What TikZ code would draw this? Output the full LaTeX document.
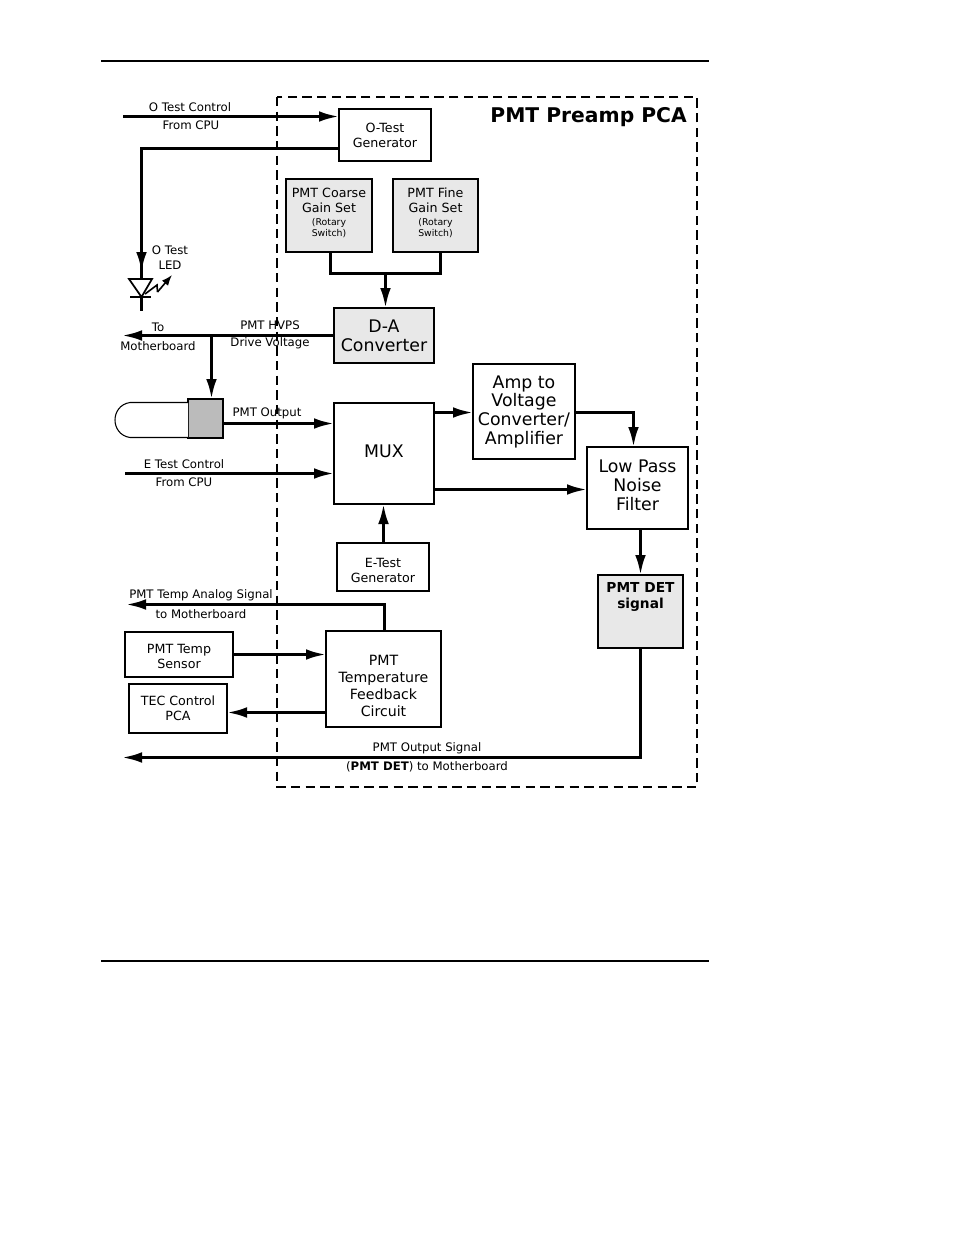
\documentclass[tikz,border=0pt]{standalone}
\usepackage{fontspec}
\setmainfont{DejaVu Sans}
\usetikzlibrary{arrows.meta,calc}
\definecolor{ink}{HTML}{000000}
\definecolor{panel}{HTML}{E8E8E8}
\definecolor{tubegray}{HTML}{BBBBBB}
\tikzset{>={Latex[length=15pt,width=8pt]},
  sig/.style={->,draw=ink,line width=2.25pt},
  wire/.style={draw=ink,line width=2.25pt},
  blk/.style n args={2}{draw=ink,line width=1.5pt,fill=white,inner sep=0pt,outer sep=0pt,align=center,
    minimum width=#1*.75pt,minimum height=#2*.75pt,font=\fontsize{9.5}{11.3}\selectfont},
  bigblk/.style={font=\fontsize{13}{14}\selectfont},
  midblk/.style={font=\fontsize{10.6}{12.8}\selectfont},
  shaded/.style={fill=panel},
  lbl/.style={font=\fontsize{8.8}{10}\selectfont,inner sep=0pt}}
\newcommand{\rot}[1]{{\fontsize{7}{8.5}\selectfont #1}}
\newcommand{\topgap}[1]{\rule{0pt}{#1}}
\begin{document}
\begin{tikzpicture}[x=.75pt,y=-.75pt]
\useasboundingbox (0,0) rectangle (954,1235);
\draw[ink,line width=.8pt] (101,61)--(709,61) (101,961)--(709,961);
\draw[ink,line width=1.5pt,dash pattern=on 7pt off 4pt] (277,97) rectangle (697,787);
\node[anchor=east,inner sep=0pt,font=\fontsize{15.2}{18}\bfseries\selectfont] (title) at (687,117) {PMT Preamp PCA};

\node[blk={92}{52}] (ogen) at (385,135) {O-Test\\Generator};
\node[blk={86}{73},shaded,text depth=5pt] (coarse) at (329,215.5) {PMT Coarse\\Gain Set\\[-2pt]\rot{(Rotary}\\[-3pt]\rot{Switch)}};
\node[blk={85}{73},shaded,text depth=5pt] (fine) at (435.5,215.5) {PMT Fine\\Gain Set\\[-2pt]\rot{(Rotary}\\[-3pt]\rot{Switch)}};
\node[blk={100}{55},shaded,bigblk] (da) at (384,335.5) {D-A\\Converter};
\node[blk={100}{101},bigblk,text depth=3pt] (mux) at (384,453.5) {MUX};
\node[blk={102}{95},bigblk] (amp) at (524,411.5) {Amp to\\Voltage\\Converter/\\Amplifier};
\node[blk={101}{82},bigblk,text depth=4pt] (lpf) at (637.5,488) {Low Pass\\Noise\\Filter};
\node[blk={92}{48}] (egen) at (383,567) {\topgap{11.5pt}E-Test\\Generator};
\node[blk={115}{96},midblk] (fb) at (383.5,679) {\topgap{18.5pt}PMT\\Temperature\\Feedback\\Circuit};
\node[blk={108}{45}] (sensor) at (179,654.5) {\topgap{10pt}PMT Temp\\Sensor};
\node[blk={98}{49}] (tec) at (178,708.5) {TEC Control\\PCA};
\node[blk={85}{73},shaded] (det) at (640.5,611.5) {};
\node[align=center,inner sep=0pt,font=\fontsize{10.3}{12.6}\bfseries\selectfont] (dettext) at (640.5,597) {PMT DET\\signal};
\node[blk={35}{39},fill=tubegray,line width=.8pt] (pmt) at (205.5,418.5) {};
\draw[ink,line width=.8pt,fill=white] (pmt.west |- 0,402.5) -- (130,402.5) .. controls (120,404) and (115,412) .. (115,420) .. controls (115,428) and (120,436) .. (130,437.5) -- (pmt.west |- 0,437.5);

\coordinate (ocpu) at (123,116.5);\coordinate (ecpu) at (125,473.5);
\coordinate (oturn) at (141.5,148.5);\coordinate (ledtop) at (141.5,279);\coordinate (ledtip) at (141.5,297);\coordinate (ledend) at (141.5,311);
\coordinate (coarsedrop) at (330.5,273.5);\coordinate (gainjoin) at (385.5,273.5);\coordinate (finedrop) at (440.5,273.5);
\coordinate (hvout) at (122,335.5);\coordinate (hvtap) at (211.5,335.5);
\coordinate (tempturn) at (384.5,604.5);\coordinate (tempout) at (126,604.5);\coordinate (detturn) at (640.5,757.5);\coordinate (detout) at (122,757.5);

\draw[sig] (ocpu) -- (ocpu -| ogen.west);
\draw[wire] (ogen.west |- oturn) -- (oturn) -- (ledtop);
\draw[sig] (oturn) -- (141.5,272);
\draw[ink,line width=1.3pt,fill=white] (129,279) -- (152,279) -- (ledtip) -- cycle;
\draw[ink,line width=1.2pt] (130,297) -- (151,297);
\draw[wire] (ledtip) -- (ledend);
\draw[ink,line width=1.2pt] (145,294) -- (157,285) -- (157.5,292);
\draw[->,>={Latex[length=8pt,width=6pt]},ink,line width=1.2pt] (157.5,292) -- (172,275);

\draw[wire] (coarsedrop |- coarse.south) -- (coarsedrop) -- (finedrop) -- (finedrop |- fine.south);
\draw[sig] (gainjoin) -- (da.north -| gainjoin);
\draw[sig] (da.west) -- (hvout);
\draw[sig] (hvtap) -- (pmt.north -| hvtap);
\draw[sig] (pmt.east |- 0,423.5) -- (mux.west |- 0,423.5);
\draw[sig] (ecpu) -- (ecpu -| mux.west);
\draw[sig] (mux.east |- 0,412.5) -- (amp.west |- 0,412.5);
\draw[sig] (amp.east |- 0,412.5) -- (633.5,412.5) -- (lpf.north -| 633.5,0);
\draw[sig] (mux.east |- 0,489.5) -- (lpf.west |- 0,489.5);
\draw[sig] (lpf.south -| det.north) -- (det.north);
\draw[sig] (383.5,0 |- egen.north) -- (383.5,0 |- mux.south);
\draw[sig] (fb.north -| tempturn) -- (tempturn) -- (tempout);
\draw[sig] (sensor.east) -- (fb.west |- sensor.east);
\draw[sig] (fb.west |- 0,712.5) -- (tec.east |- 0,712.5);
\draw[sig] (det.south) -- (detturn) -- (detout);

\node[lbl] (octrl) at (190,107) {O Test Control};
\node[lbl] (ofrom) at (191,125) {From CPU};
\node[lbl] (ledtxta) at (170,250) {O Test};
\node[lbl] (ledtxtb) at (170,265) {LED};
\node[lbl] (toa) at (158,327) {To};
\node[lbl] (tob) at (158,346) {Motherboard};
\node[lbl] (hvpsa) at (270,325) {PMT HVPS};
\node[lbl] (hvpsb) at (270,343) {Drive Voltage};
\node[lbl] (pmtout) at (267,413) {PMT Output};
\node[lbl] (ectrl) at (184,464) {E Test Control};
\node[lbl] (efrom) at (184,482) {From CPU};
\node[lbl] (tempa) at (201,595) {PMT Temp Analog Signal};
\node[lbl] (tempb) at (201,614) {to Motherboard};
\node[lbl] (outa) at (427,748) {PMT Output Signal};
\node[lbl] (outb) at (427,767) {(\textbf{PMT DET}) to Motherboard};
\end{tikzpicture}
\end{document}
